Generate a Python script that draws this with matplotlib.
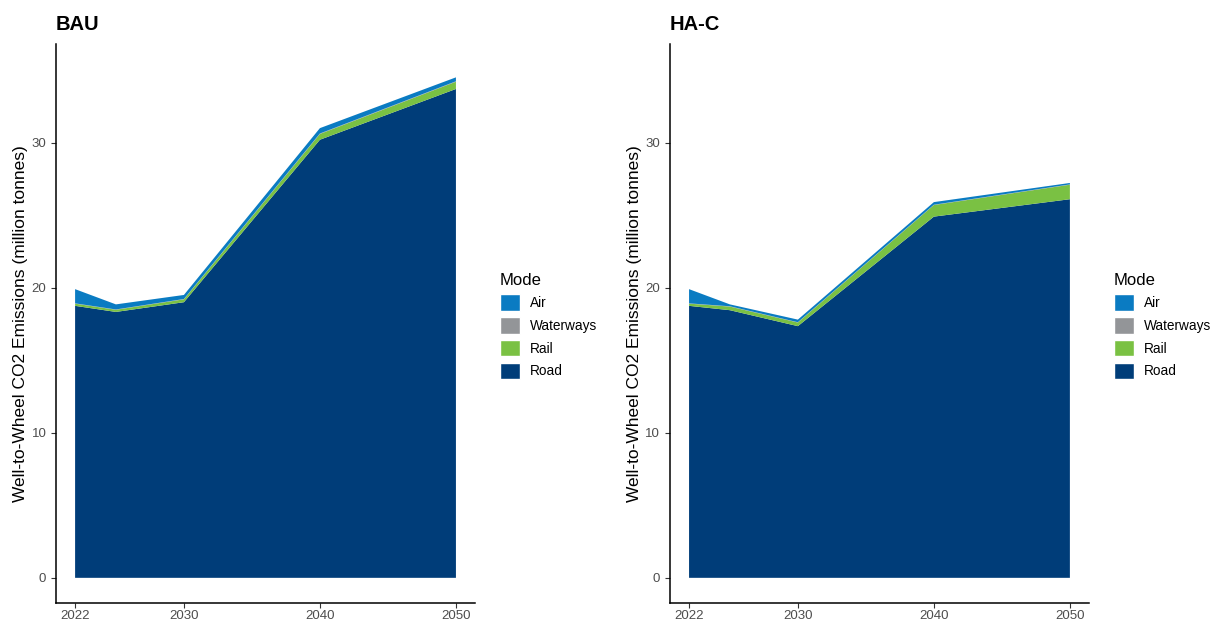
import matplotlib.pyplot as plt
from matplotlib.patches import Patch
import numpy as np

plt.rcParams['font.family'] = ['Liberation Sans', 'DejaVu Sans']

years = [2022, 2025, 2030, 2040, 2050]
modes = ['Road', 'Rail', 'Waterways', 'Air']
colors = {'Road': '#003d79', 'Rail': '#7ac143', 'Waterways': '#939598', 'Air': '#0a7bc2'}

# million tonnes, per mode
bau_road = [18.75, 18.33, 19.00, 30.20, 33.70]
bau_rail = [0.15, 0.15, 0.20, 0.40, 0.50]
bau_water = [0.02, 0.02, 0.02, 0.03, 0.03]
bau_air = [0.98, 0.35, 0.28, 0.37, 0.27]

hac_road = [18.75, 18.45, 17.35, 24.90, 26.10]
hac_rail = [0.15, 0.25, 0.25, 0.80, 1.00]
hac_water = [0.02, 0.02, 0.02, 0.02, 0.02]
hac_air = [0.98, 0.13, 0.18, 0.18, 0.10]

panels = [
    ('BAU', [bau_road, bau_rail, bau_water, bau_air]),
    ('HA-C', [hac_road, hac_rail, hac_water, hac_air]),
]

fig = plt.figure(figsize=(12.16, 6.24), dpi=100)
lefts = [0.0461, 0.551]

for (title, series), left in zip(panels, lefts):
    ax = fig.add_axes([left, 0.034, 0.3445, 0.8955])
    ax.stackplot(years, *series, colors=[colors[m] for m in modes], linewidth=0)
    ax.set_xlim(2020.6, 2051.4)
    ax.set_ylim(-1.72, 36.8)
    ax.set_xticks([2022, 2030, 2040, 2050])
    ax.set_yticks([0, 10, 20, 30])
    ax.tick_params(axis='both', colors='#333333', labelcolor='#4d4d4d',
                   labelsize=9.5, length=3.5, width=0.8)
    ax.tick_params(axis='x', pad=1.5)
    for s in ['top', 'right']:
        ax.spines[s].set_visible(False)
    for s in ['left', 'bottom']:
        ax.spines[s].set_linewidth(1.1)
    ax.set_ylabel('Well-to-Wheel CO2 Emissions (million tonnes)', fontsize=12.5, labelpad=2.5)
    ax.set_title(title, loc='left', fontweight='bold', fontsize=14.5, pad=10)

    handles = [Patch(facecolor=colors[m], edgecolor='white', label=m) for m in modes[::-1]]
    ax.legend(handles=handles, title='Mode', loc='center left',
              bbox_to_anchor=(1.03, 0.495), frameon=False, fontsize=9.8,
              title_fontsize=12, handlelength=1.5, handleheight=1.5,
              handletextpad=0.7, labelspacing=0.45, alignment='left')

fig.savefig('out.png', dpi=100)
